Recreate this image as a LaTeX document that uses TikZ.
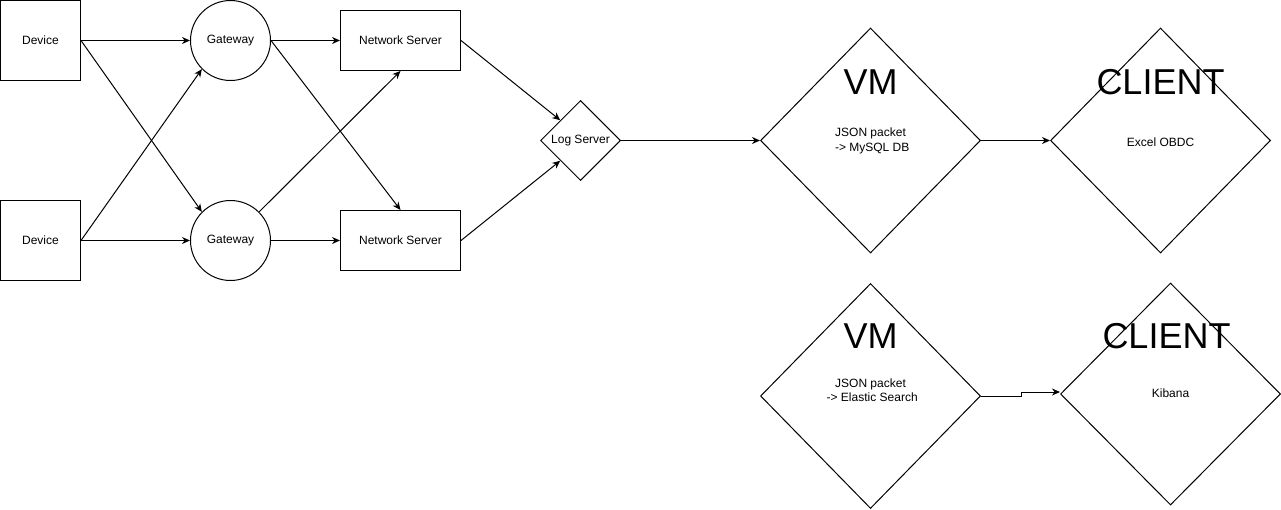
\documentclass[tikz,border=0pt]{standalone}
\usepackage{fontspec}
\setmainfont{Liberation Sans}
\usetikzlibrary{shapes.geometric,arrows.meta}
\begin{document}
\begin{tikzpicture}[x=1pt,y=-1pt,line width=1pt,
  small/.style={font=\fontsize{12}{14.5}\selectfont},
  big/.style={font=\fontsize{36}{40}\selectfont},
  box/.style={draw,rectangle,inner sep=0pt,small,align=center},
  gate/.style={draw,circle,inner sep=0pt,minimum size=80pt,small},
  rhomb/.style={draw,diamond,inner sep=0pt,small,align=center},
  txt/.style={inner sep=0pt,small,align=center},
  conn/.style={-{Stealth[length=8pt,width=7pt]}}]
\useasboundingbox (0,0) rectangle (1281,509);
% devices
\node[box,minimum width=80pt,minimum height=80pt] (d1) at (40.5,40.5) {Device};
\node[box,minimum width=80pt,minimum height=80pt] (d2) at (40.5,240.5) {Device};
% gateways
\node[gate] (g1) at (230.5,40.5) {Gateway};
\node[gate] (g2) at (230.5,240.5) {Gateway};
% network servers
\node[box,minimum width=120pt,minimum height=60pt] (n1) at (400.5,40.5) {Network Server};
\node[box,minimum width=120pt,minimum height=60pt] (n2) at (400.5,240.5) {Network Server};
% log server
\node[rhomb,minimum width=80pt,minimum height=80pt] (ls) at (580.5,140.5) {Log Server};
% VMs and clients
\node[rhomb,minimum width=220pt,minimum height=225pt] (vm1) at (870.5,140.5) {};
\node[rhomb,minimum width=220pt,minimum height=225pt] (c1) at (1160.5,140.5) {};
\node[rhomb,minimum width=220pt,minimum height=225pt] (vm2) at (870.5,396) {};
\node[rhomb,minimum width=220pt,minimum height=222pt] (c2) at (1170.5,394) {};
% texts in the diamonds
\node[big] (vm1t) at (870.5,82) {VM};
\node[txt] (vm1s) at (870.5,141) {JSON packet\\\ -> MySQL DB};
\node[big] (c1t) at (1160.5,82) {CLIENT};
\node[txt] (c1s) at (1160.5,142) {Excel OBDC};
\node[big] (vm2t) at (870.5,336) {VM};
\node[txt] (vm2s) at (870.5,390) {JSON packet\\\ -> Elastic Search};
\node[big] (c2t) at (1166.5,336) {CLIENT};
\node[txt] (c2s) at (1170.5,393) {Kibana};
% connectors
\draw[conn] (d1.east) -- (g1.west);
\draw[conn] (d1.east) -- (g2.135);
\draw[conn] (d2.east) -- (g2.west);
\draw[conn] (d2.east) -- (g1.225);
\draw[conn] (g1.east) -- (n1.west);
\draw[conn] (g1.east) -- (n2.north);
\draw[conn] (g2.45) -- (n1.south);
\draw[conn] (g2.east) -- (n2.west);
\draw[conn] (n1.east) -- (ls.north west);
\draw[conn] (n2.east) -- (ls.south west);
\draw[conn] (ls.east) -- (vm1.west);
\draw[conn] (vm1.east) -- (c1.west);
\coordinate (c2in) at ([yshift=2pt]c2.west);
\draw[conn] (vm2.east) -- ++(40,0) |- (c2in);
\end{tikzpicture}
\end{document}
